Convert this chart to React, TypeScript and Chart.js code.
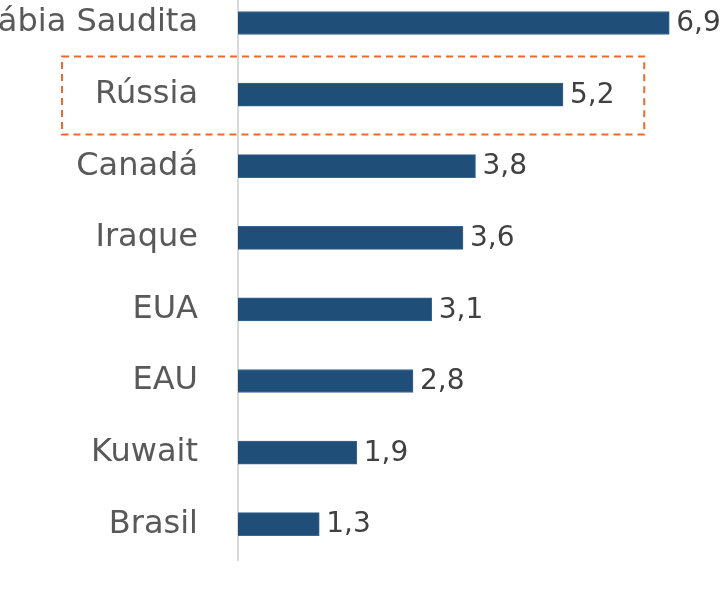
import React, { useEffect, useRef } from "react";
import { Chart, registerables } from "chart.js";

Chart.register(...registerables);

const categories = ["Arábia Saudita", "Rússia", "Canadá", "Iraque", "EUA", "EAU", "Kuwait", "Brasil"];
const values = [6.9, 5.2, 3.8, 3.6, 3.1, 2.8, 1.9, 1.3];
const highlightCategory = "Rússia";
const highlightXValue = 6.5;

const FONT = "'DejaVu Sans', sans-serif";

export default function App() {
  const ref = useRef<HTMLCanvasElement | null>(null);

  useEffect(() => {
    const canvas = ref.current!;
    const valueLabels = {
      id: "valueLabels",
      afterDatasetsDraw(chart: any) {
        const ctx = chart.ctx;
        const meta = chart.getDatasetMeta(0);
        ctx.save();
        ctx.font = `28px ${FONT}`;
        ctx.fillStyle = "#404040";
        ctx.textAlign = "left";
        ctx.textBaseline = "middle";
        meta.data.forEach((bar: any, i: number) => {
          const txt = values[i].toFixed(1).replace(".", ",");
          ctx.fillText(txt, bar.x + 7, bar.y + 1);
        });
        ctx.restore();
      },
    };
    const highlight = {
      id: "highlight",
      afterDatasetsDraw(chart: any) {
        const ctx = chart.ctx;
        const y = chart.scales.y;
        const x = chart.scales.x;
        const idx = categories.indexOf(highlightCategory);
        const cy = y.getPixelForValue(idx);
        const top = cy - 38;
        const bottom = cy + 40;
        const left = chart.chartArea.left - 176;
        const right = x.getPixelForValue(highlightXValue);
        ctx.save();
        ctx.strokeStyle = "#EE6A2C";
        ctx.lineWidth = 2;
        ctx.setLineDash([7, 5]);
        ctx.strokeRect(left, top, right - left, bottom - top);
        ctx.restore();
      },
    };
    const chart = new Chart(canvas, {
      type: "bar",
      data: {
        labels: categories,
        datasets: [
          {
            data: values,
            backgroundColor: "#1F4E79",
            borderColor: "#3A6690",
            borderWidth: 1,
            barThickness: 23,
          },
        ],
      },
      options: {
        indexAxis: "y",
        responsive: false,
        animation: false,
        devicePixelRatio: 1,
        layout: { padding: { top: 24, bottom: 100, right: 62, left: 0 } },
        plugins: { legend: { display: false }, tooltip: { enabled: false } },
        scales: {
          x: { display: false, min: 0, max: 8 },
          y: {
            grid: { display: false, drawTicks: false },
            border: { display: true, color: "#D9D9D9", width: 2 },
            ticks: {
              padding: 40,
              color: "#595959",
              font: { family: FONT, size: 32 },
            },
            afterFit(scale: any) {
              scale.width = 338;
            },
          },
        },
      },
      plugins: [valueLabels, highlight],
    });
    return () => chart.destroy();
  }, []);

  return (
    <div
      style={{
        position: "fixed",
        left: 0,
        top: 0,
        width: 724,
        height: 592,
        overflow: "hidden",
        background: "#ffffff",
      }}
    >
      <canvas
        ref={ref}
        width={900}
        height={732}
        style={{ position: "absolute", left: -100, top: -72, width: 900, height: 732 }}
      />
    </div>
  );
}
